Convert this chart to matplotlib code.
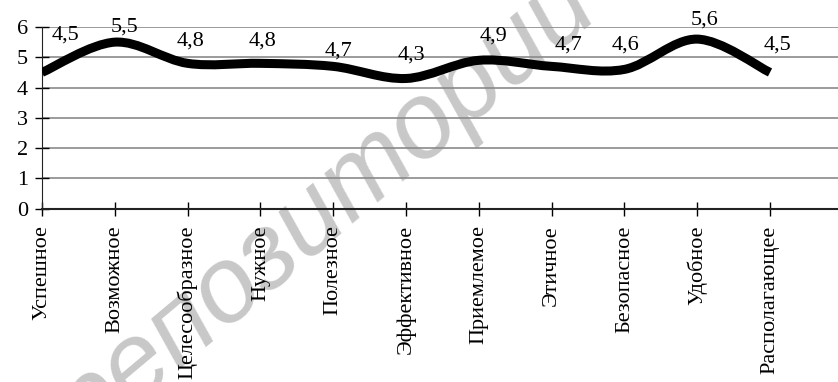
import matplotlib.pyplot as plt
import numpy as np
from matplotlib.path import Path
from matplotlib.patches import PathPatch

plt.rcParams['font.family'] = 'serif'
plt.rcParams['font.serif'] = ['Liberation Serif', 'DejaVu Serif']

# Оценки характеристик
kategorii = ['Успешное', 'Возможное', 'Целесообразное', 'Нужное', 'Полезное',
             'Эффективное', 'Приемлемое', 'Этичное', 'Безопасное', 'Удобное',
             'Располагающее']
otsenki = [4.5, 5.5, 4.8, 4.8, 4.7, 4.3, 4.9, 4.7, 4.6, 5.6, 4.5]
podpisi = ['4,5', '5,5', '4,8', '4,8', '4,7', '4,3', '4,9', '4,7', '4,6', '5,6', '4,5']

# сдвиг подписей значений (пиксели)
sdvig = [(23, 37), (10, 15), (3, 22), (2, 22), (5, 15), (5, 23),
         (15, 24), (17, 21), (1, 24), (7, 19), (7, 27)]

fig = plt.figure(figsize=(8.38, 3.82), dpi=100)
ax = fig.add_axes([42 / 838, 1 - 208.7 / 382, 1 - 42 / 838, (208.7 - 27) / 382])

x = np.arange(len(otsenki))
y = np.array(otsenki)

# сглаженная линия (Catmull-Rom через кривые Безье)
P = np.column_stack([x, y]).astype(float)
Pext = np.vstack([P[0], P, P[-1]])
verts = [P[0]]
codes = [Path.MOVETO]
for i in range(len(P) - 1):
    p0, p1, p2, p3 = Pext[i], Pext[i + 1], Pext[i + 2], Pext[i + 3]
    c1 = p1 + (p2 - p0) / 6
    c2 = p2 - (p3 - p1) / 6
    verts += [c1, c2, p2]
    codes += [Path.CURVE4] * 3
ax.add_patch(PathPatch(Path(verts, codes), facecolor='none', edgecolor='black',
                       lw=6.5, capstyle='butt', joinstyle='round', zorder=3))

for i, (v, t) in enumerate(zip(otsenki, podpisi)):
    dx, dy = sdvig[i]
    ax.annotate(t, (i, v), xytext=(dx, dy), textcoords='offset pixels',
                ha='center', va='center', fontsize=16, zorder=4)

ax.set_xlim(0, (838 - 42) / 72.8)
ax.set_ylim(0, 6)
ax.set_yticks(range(0, 7))
ax.set_xticks(x)
ax.set_xticklabels(kategorii, rotation=90, fontsize=16)
ax.tick_params(axis='y', labelsize=16, direction='inout', length=10, width=1, pad=5)
ax.tick_params(axis='x', direction='inout', length=10, width=1, pad=7)
ax.grid(axis='y', color='#8a8a8a', lw=1.2)
ax.set_axisbelow(True)
for s in ['top', 'right']:
    ax.spines[s].set_visible(False)
ax.spines['left'].set_color('#222222')
ax.spines['bottom'].set_color('#222222')
ax.spines['bottom'].set_linewidth(1.5)

# водяной знак
ax.text(0.39, 0.45, 'репозиторий', transform=fig.transFigure, rotation=40,
        fontsize=77, style='italic', family='Liberation Sans', color='#c8c8c8',
        ha='center', va='center', zorder=0.2, clip_on=False)

fig.savefig('out.png', dpi=100)
